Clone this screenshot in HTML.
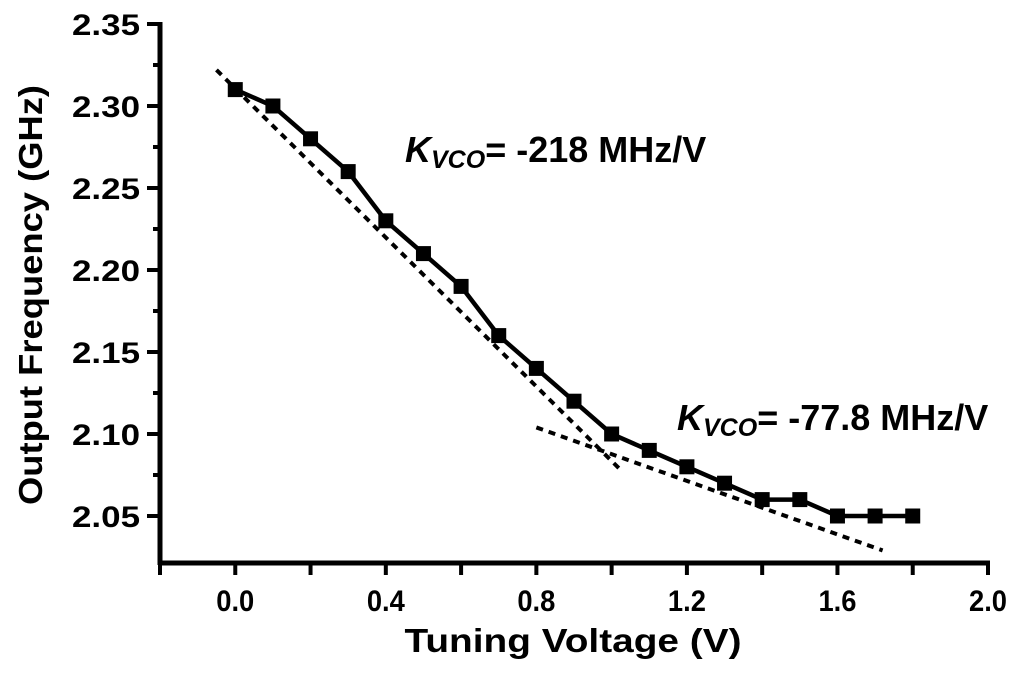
<!DOCTYPE html>
<html><head><meta charset="utf-8"><style>
body{margin:0;background:#fff}
svg{display:block;font-family:"Liberation Sans",Arial,sans-serif;font-weight:bold}
</style></head><body>
<svg id="chart" width="1024" height="675" viewBox="0 0 1024 675"></svg>
<script>
const voltages=[0,0.1,0.2,0.3,0.4,0.5,0.6,0.7,0.8,0.9,1.0,1.1,1.2,1.3,1.4,1.5,1.6,1.7,1.8];
const freqs=[2.31,2.30,2.28,2.26,2.23,2.21,2.19,2.16,2.14,2.12,2.10,2.09,2.08,2.07,2.06,2.06,2.05,2.05,2.05];
const fit1V=[-0.05,1.02];
const fit1F=[2.322,2.079];
const fit2V=[0.8,1.72];
const fit2F=[2.104,2.029];
const xTicks=[-0.2,0,0.2,0.4,0.6,0.8,1.0,1.2,1.4,1.6,1.8,2.0];
const xLabels=["0.0","0.4","0.8","1.2","1.6","2.0"];
const yTicks=[2.35,2.30,2.25,2.20,2.15,2.10,2.05];
const yMinor=[2.325,2.275,2.225,2.175,2.125,2.075];

const X=v=>160+(v+0.2)*(988-160)/2.2;
const Y=f=>24+(2.35-f)*(516-24)/0.30;
const axisY=563;
const svg=document.getElementById('chart');
const NS='http://www.w3.org/2000/svg';
function mk(tag,attrs,parent){const e=document.createElementNS(NS,tag);for(const k in attrs)e.setAttribute(k,attrs[k]);(parent||svg).appendChild(e);return e;}

let e;
e=mk('line',{x1:158,y1:axisY,x2:990,y2:axisY,stroke:'#000','stroke-width':5});


e=mk('line',{x1:160,y1:22,x2:160,y2:565,stroke:'#000','stroke-width':5});


xTicks.forEach(v=>{
  e=mk('line',{x1:X(v),y1:axisY,x2:X(v),y2:axisY+12,stroke:'#000','stroke-width':4});
  
  
});
xLabels.forEach(s=>{
  e=mk('text',{x:X(parseFloat(s)),y:611,'text-anchor':'middle','font-size':30,textLength:38,lengthAdjust:'spacingAndGlyphs'});
  e.textContent=s;
  
  
});
yTicks.forEach(f=>{
  e=mk('line',{x1:147,y1:Y(f),x2:160,y2:Y(f),stroke:'#000','stroke-width':4});
  
  
  e=mk('text',{x:140,y:Y(f)+11,'text-anchor':'end','font-size':30,textLength:68,lengthAdjust:'spacingAndGlyphs'});
  e.textContent=f.toFixed(2);
  
  
});
yMinor.forEach(f=>{
  e=mk('line',{x1:153,y1:Y(f),x2:160,y2:Y(f),stroke:'#000','stroke-width':4});
  
  
});
e=mk('text',{x:573,y:652,'text-anchor':'middle','font-size':33,textLength:337,lengthAdjust:'spacingAndGlyphs'});
e.textContent='Tuning Voltage (V)';


e=mk('text',{x:0,y:0,'text-anchor':'middle','font-size':33,textLength:420,lengthAdjust:'spacingAndGlyphs',transform:'translate(42,295) rotate(-90)'});
e.textContent='Output Frequency (GHz)';



e=mk('line',{x1:X(fit1V[0]),y1:Y(fit1F[0]),x2:X(fit1V[1]),y2:Y(fit1F[1]),stroke:'#000','stroke-width':4,'stroke-dasharray':'7 6'});


e=mk('line',{x1:X(fit2V[0]),y1:Y(fit2F[0]),x2:X(fit2V[1]),y2:Y(fit2F[1]),stroke:'#000','stroke-width':4,'stroke-dasharray':'7 6'});



e=mk('polyline',{points:voltages.map((v,i)=>X(v)+','+Y(freqs[i])).join(' '),fill:'none',stroke:'#000','stroke-width':4.5});


voltages.forEach((v,i)=>{
  e=mk('rect',{x:X(v)-7.5,y:Y(freqs[i])-7.5,width:15,height:15,fill:'#000'});
  
  
});

function ann(x,y,val,name){
  const t=mk('text',{x:x,y:y,'font-size':36});
  
  
  const a=mk('tspan',{'font-style':'italic'},t);a.textContent='K';
  const b=mk('tspan',{'font-style':'italic','font-size':25,dy:6},t);b.textContent='VCO';
  const c=mk('tspan',{dy:-6},t);c.textContent='= '+val;
}
ann(405,162,'-218 MHz/V','kvco-annotation-1');
ann(677,430,'-77.8 MHz/V','kvco-annotation-2');
</script>
</body></html>
